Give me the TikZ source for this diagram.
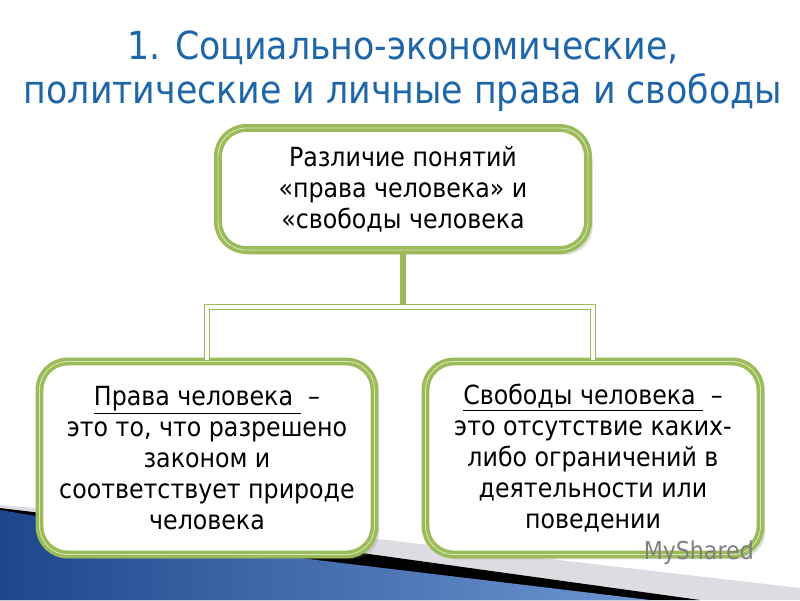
\documentclass[tikz,border=0pt]{standalone}
\usepackage{fontspec}
\setmainfont{DejaVu Sans Condensed}
\usetikzlibrary{positioning,shadows}
\definecolor{grn}{RGB}{155,187,89}
\definecolor{ttl}{RGB}{31,102,168}
\definecolor{navy}{RGB}{30,70,140}
\definecolor{steel}{RGB}{110,150,210}
\tikzset{
	box/.style={draw=grn,line width=2pt,double=grn!40,double distance=0.5pt,rounded corners=16pt,fill=white,align=center,font=\fontsize{15}{17.6}\selectfont,drop shadow={opacity=0.25}},
	link/.style={draw=grn,line width=0.8pt,double=white,double distance=2pt}
}
\begin{document}
\begin{tikzpicture}[x=0.02cm,y=-0.02cm]
	\useasboundingbox (0,0) rectangle (800,600);
	%DECORATION
	\fill[blue!10!gray!25] (0,505) -- (300,530) -- (800,588) -- (800,600) -- (0,600) -- cycle;
	\fill[black] (0,508) -- (290,543) -- (700,600) -- (0,600) -- cycle;
	\shade[left color=navy,right color=steel] (0,510) -- (250,552) -- (650,600) -- (0,600) -- cycle;
	%TITLE
	\node[text=ttl,font=\fontsize{22}{25}\selectfont,align=center] (title) at (403,71) {1. Социально-экономические,\\политические и личные права и свободы};
	%BOXES
	\node[box,minimum width=7.4cm,minimum height=2.44cm] (diff) at (403,189) {Различие понятий\\«права человека» и\\«свободы человека};
	\node[box,minimum width=6.7cm,minimum height=3.86cm] (rights) at (207,458) {\underline{Права человека }~–\\это то, что разрешено\\законом и\\соответствует природе\\человека};
	\node[box,minimum width=6.7cm,minimum height=3.86cm] (free) at (593,458) {\underline{Свободы человека }~–\\это отсутствие каких-\\либо ограничений в\\деятельности или\\поведении};
	%LINKS
	\coordinate (fork) at (403,307);
	\draw[draw=grn,line width=3pt] (diff.south) -- (fork);
	\draw[link] (rights.north) |- (fork) -| (free.north);
	\node[text=gray,font=\fontsize{14}{14}\selectfont,anchor=east] (mark) at (760,553) {MyShared};
\end{tikzpicture}
\end{document}
